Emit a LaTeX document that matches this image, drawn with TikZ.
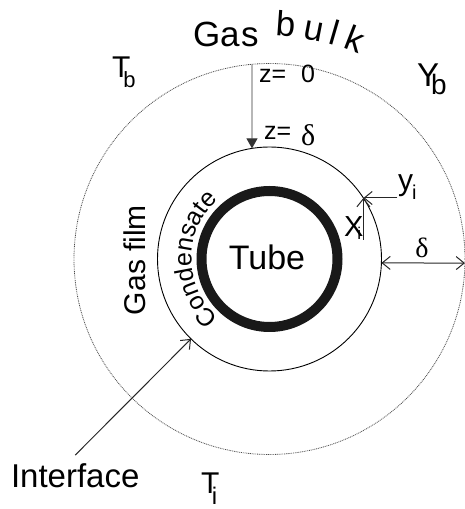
\documentclass[tikz,border=0pt]{standalone}
\usepackage{fontspec}
\setmainfont{Liberation Sans}
\newfontfamily\grk{Liberation Serif}
\usetikzlibrary{arrows.meta,decorations.text,calc}
\newcommand\fsz[1]{\fontsize{#1}{#1}\selectfont}
\begin{document}
\begin{tikzpicture}[x=1pt,y=1pt,
  dotcirc/.style={line width=0.8pt, gray!60!black, dash pattern=on 0.9pt off 0.9pt},
  interfacecirc/.style={line width=0.9pt, black},
  tubering/.style={line width=10pt, black!90},
  zarrow/.style={line width=0.9pt, black!80, -{Triangle[length=10pt,width=11pt]}},
  barb/.style={line width=1pt, black!85, -{Straight Barb[length=8pt,width=13pt]}},
  dbarb/.style={line width=1pt, black!85, {Straight Barb[length=8pt,width=13pt]}-{Straight Barb[length=8pt,width=13pt]}},
  lbl/.style={inner sep=0pt, outer sep=0pt}
]
\useasboundingbox (0,0) rectangle (465,509);
\coordinate (C) at (269.5,250);

% circles
\draw[dotcirc] (C) circle[radius=195.5];
\draw[interfacecirc] (C) circle[radius=112];
\draw[tubering] (C) circle[radius=68];

% texts
\node[lbl, anchor=base] (tube) at (267,239) {\fsz{34}Tube};
\node[lbl, anchor=base west] (gas) at (193,462) {\fsz{35}Ga\kern1.5pt s};
\path[decorate, decoration={text along path, text={|\fsz{35}|bulk}, text align={fit to path}}]
  ($(C)+(88.4:223)$) arc[start angle=88.4, end angle=66.5, radius=223];
\path[decorate, decoration={text along path, text={|\fsz{25}|Condensate}, text align=center}]
  ($(C)+(232:78)$) arc[start angle=232, end angle=128, radius=78];
\node[lbl, anchor=base, rotate=90] (gasfilm) at (145,249) {\fsz{30}Gas film};

\node[lbl, anchor=base west] (Tb) at (112,431) {\fsz{30}T\kern-7pt\raisebox{-10pt}{\fsz{22}b}};
\node[lbl, anchor=base west] (Yb) at (417,422) {\fsz{33}Y\kern-8pt\raisebox{-8pt}{\fsz{28}b}};
\node[lbl, anchor=base west] (Ti) at (201,16) {\fsz{30}T\kern-7.5pt\raisebox{-11pt}{\fsz{24}i}};
\node[lbl, anchor=base west] (Interface) at (11,21) {\fsz{33}Interface};

\node[lbl, anchor=base west] (z0lbl) at (259,426) {\fsz{25}z=\hspace{8pt} 0};
\node[lbl, anchor=base west] (zdlbl) at (264,369) {\fsz{25}z=\hspace{3pt} \raisebox{-6pt}{\grk\fsz{30}δ}};
\node[lbl, anchor=base] (dlbl) at (422,251) {\grk\fsz{28}δ};
\node[lbl, anchor=base west] (yi) at (398,318) {\fsz{30}y\kern-1pt\raisebox{-9pt}{\fsz{20}i}};
\node[lbl, anchor=base west] (xi) at (344,272) {\fsz{29}X\kern-6pt\raisebox{-3pt}{\fsz{17}i}};

% connectors
\coordinate (z0) at ($(C)+(95.14:195.5)$);
\coordinate (zd) at ($(C)+(98.99:112)$);
\draw[zarrow] (z0) -- (zd);

\coordinate (P) at ($(C)+(33:112)$);
\coordinate (ytail) at ($(P)+(34,0)$);
\coordinate (xtail) at ($(P)+(0,-42)$);
\draw[barb] (ytail) -- (P);
\draw[barb] (xtail) -- (P);

\coordinate (di) at ($(C)+(-2:112)$);
\coordinate (do) at ($(C)+(-1.2:195.5)$);
\draw[dbarb] (di) -- (do);

\coordinate (ip) at ($(C)+(225.5:112)$);
\draw[barb] ([yshift=9pt]Interface.north) -- (ip);
\end{tikzpicture}
\end{document}
